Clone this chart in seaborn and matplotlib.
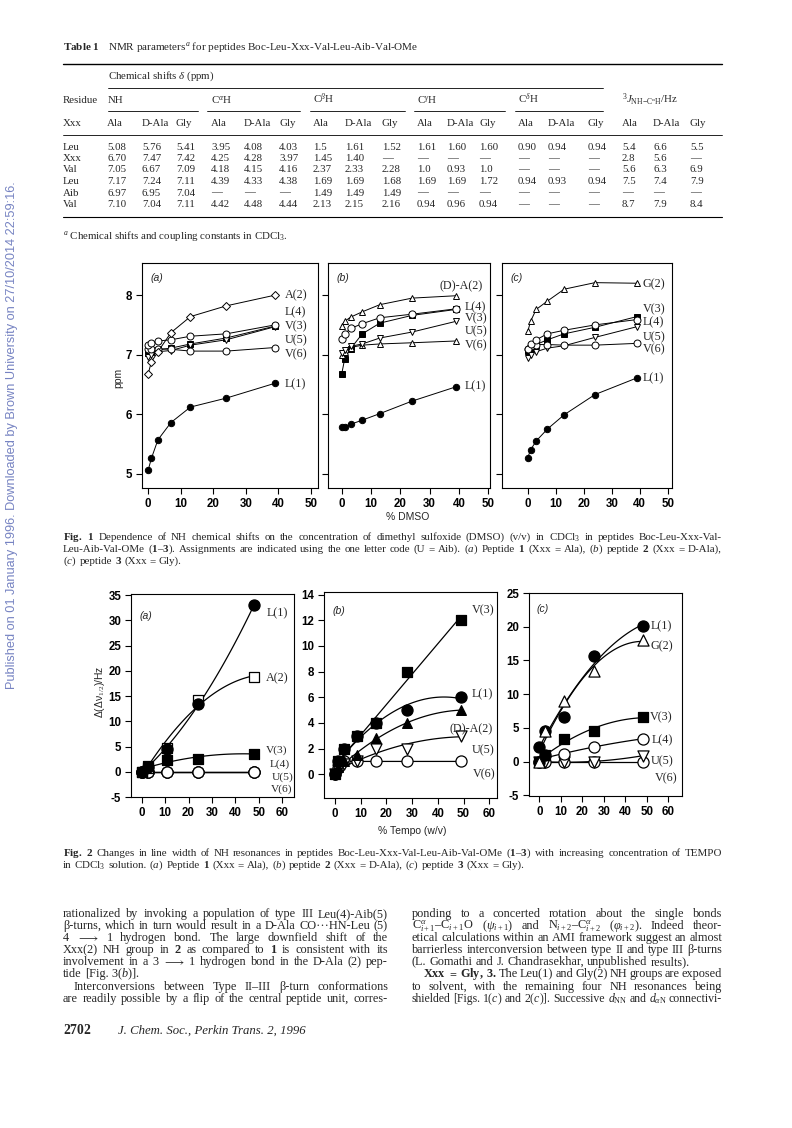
import numpy as np
import pandas as pd
import matplotlib
matplotlib.use("Agg")
import matplotlib.pyplot as plt
from matplotlib.lines import Line2D
import seaborn as sns

W, H = 792, 1128

# ---------------- Fig. 1 data: NH shift (ppm) vs % DMSO ----------------
dmso_pct = [0, 1, 3, 7, 13, 24, 39]
f1a_L1 = [5.06, 5.26, 5.57, 5.86, 6.12, 6.27, 6.52]
f1a_A2 = [6.68, 6.88, 7.05, 7.37, 7.64, 7.82, 8.00]
f1a_L4 = [7.17, 7.19, 7.23, 7.25, 7.31, 7.35, 7.50]
f1a_V3 = [7.03, 7.05, 7.08, 7.11, 7.18, 7.28, 7.48]
f1a_U5 = [6.96, 6.99, 7.05, 7.07, 7.16, 7.25, 7.47]
f1a_V6 = [7.09, 7.10, 7.10, 7.09, 7.06, 7.06, 7.12]

f1b_L1 = [5.78, 5.79, 5.83, 5.90, 6.01, 6.22, 6.46]
f1b_DA2 = [7.48, 7.56, 7.63, 7.72, 7.84, 7.95, 7.99]
f1b_L4 = [7.26, 7.35, 7.44, 7.52, 7.62, 7.68, 7.77]
f1b_V3 = [6.68, 6.93, 7.10, 7.35, 7.53, 7.66, 7.76]
f1b_U5 = [7.03, 7.08, 7.14, 7.18, 7.28, 7.38, 7.56]
f1b_V6 = [7.00, 7.05, 7.12, 7.16, 7.18, 7.20, 7.23]

f1c_L1 = [5.27, 5.40, 5.55, 5.75, 5.99, 6.33, 6.61]
f1c_G2 = [7.39, 7.56, 7.76, 7.90, 8.10, 8.21, 8.20]
f1c_V3 = [7.07, 7.11, 7.17, 7.25, 7.35, 7.46, 7.64]
f1c_L4 = [7.09, 7.18, 7.25, 7.35, 7.41, 7.50, 7.59]
f1c_U5 = [6.95, 7.00, 7.05, 7.11, 7.15, 7.29, 7.47]
f1c_V6 = [7.09, 7.15, 7.17, 7.17, 7.16, 7.16, 7.19]

# ---------------- Fig. 2 data: line-width change (Hz) vs % TEMPO ----------------
tempo_a = [0, 2.5, 11, 24, 48]
f2a_L1 = [0, 1.0, 4.5, 13.5, 33.0]
f2a_A2 = [0, 0.8, 4.8, 14.2, 18.8]
f2a_V3 = [0, 1.2, 2.4, 2.5, 3.6]
f2a_L4 = [0, 0, 0, 0, 0]
f2a_U5 = [0, 0, 0, 0, 0]
f2a_V6 = [0, 0, 0, 0, 0]

tempo_b = [0, 1, 3.5, 8.5, 16, 28, 49]
f2b_V3 = [0, 1.0, 2.0, 3.0, 4.0, 8.0, 12.0]
f2b_L1 = [0, 1.0, 2.0, 3.0, 4.0, 5.0, 6.0]
f2b_DA2 = [0, 0.6, 1.0, 1.5, 2.8, 4.0, 5.0]
f2b_U5 = [0, 0.3, 0.8, 1.0, 2.0, 2.0, 3.0]
f2b_V6 = [0, 0.5, 1.0, 1.0, 1.0, 1.0, 1.0]

tempo_c = [0, 2.5, 11.5, 25.5, 48]
f2c_L1 = [2.2, 4.5, 6.7, 15.7, 20.1]
f2c_G2 = [0, 4.5, 9.0, 13.5, 18.0]
f2c_V3 = [0, 1.0, 3.3, 4.6, 6.6]
f2c_L4 = [0, 1.0, 1.1, 2.2, 3.4]
f2c_U5 = [0, 0, 0, 0, 0.9]
f2c_V6 = [0, 0, 0, 0, 0]

# ---------------- Table 1 ----------------
table_residues = ["Leu", "Xxx", "Val", "Leu", "Aib", "Val"]
table_values = [
    ["5.08", "5.76", "5.41", "3.95", "4.08", "4.03", "1.5", "1.61", "1.52", "1.61", "1.60", "1.60", "0.90", "0.94", "0.94", "5.4", "6.6", "5.5"],
    ["6.70", "7.47", "7.42", "4.25", "4.28", "3.97", "1.45", "1.40", "\u2014", "\u2014", "\u2014", "\u2014", "\u2014", "\u2014", "\u2014", "2.8", "5.6", "\u2014"],
    ["7.05", "6.67", "7.09", "4.18", "4.15", "4.16", "2.37", "2.33", "2.28", "1.0", "0.93", "1.0", "\u2014", "\u2014", "\u2014", "5.6", "6.3", "6.9"],
    ["7.17", "7.24", "7.11", "4.39", "4.33", "4.38", "1.69", "1.69", "1.68", "1.69", "1.69", "1.72", "0.94", "0.93", "0.94", "7.5", "7.4", "7.9"],
    ["6.97", "6.95", "7.04", "\u2014", "\u2014", "\u2014", "1.49", "1.49", "1.49", "\u2014", "\u2014", "\u2014", "\u2014", "\u2014", "\u2014", "\u2014", "\u2014", "\u2014"],
    ["7.10", "7.04", "7.11", "4.42", "4.48", "4.44", "2.13", "2.15", "2.16", "0.94", "0.96", "0.94", "\u2014", "\u2014", "\u2014", "8.7", "7.9", "8.4"],
]
table_groups = ["NH", "C$^{\\alpha}$H", "C$^{\\beta}$H", "C$^{\\gamma}$H", "C$^{\\delta}$H",
                "$^{3}J_{\\mathrm{NH\\!-\\!C^{\\alpha}H}}$/Hz"]
table_sub = ["Ala", "D-Ala", "Gly"]

# ---------------- style ----------------
sns.set_theme(style="ticks")
SERIF = ["Liberation Serif", "DejaVu Serif"]
SANS = ["Liberation Sans", "DejaVu Sans"]
plt.rcParams.update({
    "font.family": SANS,
    "mathtext.fontset": "custom",
    "mathtext.rm": "Liberation Serif",
    "mathtext.it": "Liberation Serif:italic",
    "mathtext.bf": "Liberation Serif:bold",
    "mathtext.fallback": "stix",
    "axes.linewidth": 0.8,
    "axes.edgecolor": "black",
    "xtick.color": "black",
    "ytick.color": "black",
    "figure.facecolor": "white",
})

fig = plt.figure(figsize=(W / 100, H / 100), dpi=100)
renderer = fig.canvas.get_renderer()


def fx(x):
    return x / W


def fy(y):
    return 1 - y / H


def T(x, y, s, size=8, family=SERIF, **kw):
    return fig.text(fx(x), fy(y), s, fontsize=size, family=family, **kw)


def hline(x0, x1, y, lw=0.8):
    fig.add_artist(Line2D([fx(x0), fx(x1)], [fy(y), fy(y)], color="black", lw=lw,
                          transform=fig.transFigure))


def para_line(x0, x1, y, s, size, justify=True, indent=0):
    words = s.split()
    objs = [fig.text(0, 0, w, fontsize=size, family=SERIF, va="baseline", ha="left") for w in words]
    widths = [o.get_window_extent(renderer).width for o in objs]
    avail = x1 - x0 - indent
    min_gap = 2.0
    need = sum(widths) + (len(words) - 1) * min_gap
    if justify and need > avail:
        scale = (avail - (len(words) - 1) * min_gap) / sum(widths)
        for o in objs:
            o.set_fontsize(size * scale)
        widths = [o.get_window_extent(renderer).width for o in objs]
    normal = size * 100 / 72 * 0.25
    if justify and len(words) > 1:
        gap = max((avail - sum(widths)) / (len(words) - 1), min_gap)
    else:
        gap = normal
    x = x0 + indent
    for o, w in zip(objs, widths):
        o.set_position((fx(x), fy(y)))
        x += w + gap


def rect(x0, y0, x1, y1):
    return [fx(x0), fy(y1), (x1 - x0) / W, (y1 - y0) / H]


# ---------------- sidebar ----------------
T(12, 435, "Published on 01 January 1996. Downloaded by Brown University on 27/10/2014 22:59:16.",
  size=9.2, family=SANS, rotation=90, ha="center", va="center", color="#7683c2")

# ---------------- Table ----------------
tsz = 7.8
T(63, 50, "$\\mathbf{Table\\ 1}$", size=8.0, va="baseline")
T(108, 50, "NMR parameters$^{\\mathit{a}}$ for peptides Boc-Leu-Xxx-Val-Leu-Aib-Val-OMe", size=8.0, va="baseline")
hline(63, 722, 64, lw=1.0)
T(108, 79, "Chemical shifts $\\delta$ (ppm)", size=tsz, va="baseline")
hline(108, 603, 88, lw=0.6)
group_x = [108, 211, 313, 417, 518, 622]
T(63, 103, "Residue", size=tsz, va="baseline")
for gx, g in zip(group_x, table_groups):
    T(gx, 103, g, size=tsz, va="baseline")
for a, b in [(108, 198), (207, 300), (310, 405), (414, 505), (515, 603)]:
    hline(a, b, 111, lw=0.6)
col_x = [107, 142, 176, 211, 244, 279, 313, 345, 382, 417, 447, 479, 518, 548, 588, 622, 653, 690]
T(63, 126, "Xxx", size=tsz, va="baseline")
for i, cx in enumerate(col_x):
    T(cx, 126, table_sub[i % 3], size=tsz, va="baseline")
hline(63, 722, 135, lw=0.6)
row_y = [150, 161, 172, 183.5, 195.5, 207]
for ry, res, vals in zip(row_y, table_residues, table_values):
    T(63, ry, res, size=tsz, va="baseline")
    for cx, v in zip(col_x, vals):
        T(cx, ry, v, size=tsz, va="baseline")
hline(63, 722, 217, lw=0.8)
T(63, 239, "$^{\\mathit{a}}$ Chemical shifts and coupling constants in CDCl$_3$.", size=tsz, va="baseline")

# ---------------- Figure 1 ----------------
ax1a = fig.add_axes(rect(142, 263, 318, 488))
ax1b = fig.add_axes(rect(328, 263, 490, 488))
ax1c = fig.add_axes(rect(502, 263, 672, 488))


def f1_series(ax, y, marker, filled, ms=5):
    sns.lineplot(x=dmso_pct, y=y, ax=ax, color="black", lw=0.7, errorbar=None,
                 marker=marker, markersize=ms,
                 markerfacecolor="black" if filled else "white",
                 markeredgecolor="black", markeredgewidth=0.7)


f1_series(ax1a, f1a_L1, "o", True, 4.6)
f1_series(ax1a, f1a_V3, "s", True, 3.8)
f1_series(ax1a, f1a_U5, "v", False, 5)
f1_series(ax1a, f1a_V6, "o", False, 5)
f1_series(ax1a, f1a_L4, "o", False, 5)
f1_series(ax1a, f1a_A2, "D", False, 4.2)

f1_series(ax1b, f1b_L1, "o", True, 4.6)
f1_series(ax1b, f1b_V3, "s", True, 3.8)
f1_series(ax1b, f1b_V6, "^", False, 4.6)
f1_series(ax1b, f1b_U5, "v", False, 4.6)
f1_series(ax1b, f1b_L4, "o", False, 5.2)
f1_series(ax1b, f1b_DA2, "^", False, 4.6)

f1_series(ax1c, f1c_L1, "o", True, 4.6)
f1_series(ax1c, f1c_V3, "s", True, 3.8)
f1_series(ax1c, f1c_U5, "v", False, 4.6)
f1_series(ax1c, f1c_V6, "o", False, 5)
f1_series(ax1c, f1c_L4, "o", False, 5)
f1_series(ax1c, f1c_G2, "^", False, 4.6)

for ax, xl in [(ax1a, (-1.9, 52.2)), (ax1b, (-4.7, 50.6)), (ax1c, (-9.2, 51.5))]:
    ax.set_xlim(*xl)
    ax.set_ylim(4.76, 8.54)
    ax.set_xlabel("")
    ax.set_ylabel("")
    ax.tick_params(direction="out", length=4, width=0.8, pad=3)
    ax.set_xticks(range(0, 51, 10), labels=[str(v) for v in range(0, 51, 10)],
                  fontsize=8.3, fontweight="bold", family=SANS)
    for sp in ax.spines.values():
        sp.set_visible(True)
        sp.set_linewidth(0.8)
ax1a.set_yticks([5, 6, 7, 8], labels=["5", "6", "7", "8"], fontsize=8.3, fontweight="bold", family=SANS)
ax1b.set_yticks([5, 6, 7, 8], labels=[])
ax1c.set_yticks([5, 6, 7, 8], labels=[])

lab1 = dict(fontsize=8.7, family=SERIF, ha="left", va="center")
ax1a.text(42, 8.00, "A(2)", **lab1)
ax1a.text(42, 7.72, "L(4)", **lab1)
ax1a.text(42, 7.48, "V(3)", **lab1)
ax1a.text(42, 7.24, "U(5)", **lab1)
ax1a.text(42, 7.01, "V(6)", **lab1)
ax1a.text(42, 6.50, "L(1)", **lab1)

ax1b.text(33.5, 8.15, "(D)-A(2)", **lab1)
ax1b.text(42, 7.79, "L(4)", **lab1)
ax1b.text(42, 7.61, "V(3)", **lab1)
ax1b.text(42, 7.39, "U(5)", **lab1)
ax1b.text(42, 7.15, "V(6)", **lab1)
ax1b.text(42, 6.47, "L(1)", **lab1)

ax1c.text(41, 8.18, "G(2)", **lab1)
ax1c.text(41, 7.77, "V(3)", **lab1)
ax1c.text(41, 7.54, "L(4)", **lab1)
ax1c.text(41, 7.30, "U(5)", **lab1)
ax1c.text(41, 7.09, "V(6)", **lab1)
ax1c.text(41, 6.61, "L(1)", **lab1)

for ax, s in [(ax1a, "(a)"), (ax1b, "(b)"), (ax1c, "(c)")]:
    ax.text(0.05, 0.935, s, transform=ax.transAxes, fontsize=7.5, style="italic",
            family=SANS, ha="left", va="center")

T(118, 378, "ppm", size=7.5, family=SANS, rotation=90, ha="center", va="center")
T(408, 517, "% DMSO", size=7.5, family=SANS, ha="center", va="center")

# Fig 1 caption
cap = 7.95
para_line(63, 722, 540, "$\\mathbf{Fig.}$ $\\mathbf{1}$ Dependence of NH chemical shifts on the concentration of dimethyl sulfoxide (DMSO) (v/v) in CDCl$_3$ in peptides Boc-Leu-Xxx-Val-", cap)
para_line(63, 722, 552, "Leu-Aib-Val-OMe ($\\mathbf{1}$\u2013$\\mathbf{3}$). Assignments are indicated using the one letter code (U = Aib). ($\\mathit{a}$) Peptide $\\mathbf{1}$ (Xxx = Ala), ($\\mathit{b}$) peptide $\\mathbf{2}$ (Xxx = D-Ala),", cap)
para_line(63, 722, 564, "($\\mathit{c}$) peptide $\\mathbf{3}$ (Xxx = Gly).", cap, justify=False)

# ---------------- Figure 2 ----------------
ax2a = fig.add_axes(rect(131, 594, 294, 797))
ax2b = fig.add_axes(rect(324, 592, 497, 798))
ax2c = fig.add_axes(rect(529, 593, 682, 796))


def f2_series(ax, x, y, marker, filled, order, ms=8):
    if order == 0:
        sns.lineplot(x=x, y=y, ax=ax, color="black", lw=0.9, errorbar=None)
    else:
        sns.regplot(x=x, y=y, ax=ax, order=order, ci=None, scatter=False, truncate=True,
                    line_kws=dict(color="black", lw=0.9))
    sns.scatterplot(x=x, y=y, ax=ax, marker=marker, s=ms ** 2,
                    color="black" if filled else "white", edgecolor="black",
                    linewidth=0.9, zorder=3)


f2_series(ax2a, tempo_a, f2a_L4, "o", False, 1)
f2_series(ax2a, tempo_a, f2a_U5, "o", False, 1)
f2_series(ax2a, tempo_a, f2a_V6, "o", False, 1)
f2_series(ax2a, tempo_a, f2a_V3, "s", True, 2, 7)
f2_series(ax2a, tempo_a, f2a_A2, "s", False, 2, 7.5)
f2_series(ax2a, tempo_a, f2a_L1, "o", True, 2)

f2_series(ax2b, tempo_b, f2b_V6, "o", False, 0)
f2_series(ax2b, tempo_b, f2b_U5, "v", False, 2)
f2_series(ax2b, tempo_b, f2b_DA2, "^", True, 2, 7)
f2_series(ax2b, tempo_b, f2b_L1, "o", True, 2)
f2_series(ax2b, tempo_b, f2b_V3, "s", True, 1, 7)

f2_series(ax2c, tempo_c, f2c_V6, "o", False, 1)
f2_series(ax2c, tempo_c, f2c_U5, "v", False, 2)
f2_series(ax2c, tempo_c, f2c_L4, "o", False, 2)
f2_series(ax2c, tempo_c, f2c_V3, "s", True, 2, 7)
f2_series(ax2c, tempo_c, f2c_L1, "o", True, 2)
f2_series(ax2c, tempo_c, f2c_G2, "^", False, 2)

for ax, xl, yl, yt in [
    (ax2a, (-4.55, 65), (-5, 35.2), list(range(-5, 36, 5))),
    (ax2b, (-4.3, 63), (-1.85, 14.2), list(range(0, 15, 2))),
    (ax2c, (-4.8, 66.3), (-5.08, 25.0), list(range(-5, 26, 5))),
]:
    ax.set_xlim(*xl)
    ax.set_ylim(*yl)
    ax.set_xlabel("")
    ax.set_ylabel("")
    ax.tick_params(direction="out", length=4, width=0.8, pad=3)
    ax.set_xticks(range(0, 61, 10), labels=[str(v) for v in range(0, 61, 10)],
                  fontsize=8.3, fontweight="bold", family=SANS)
    ax.set_yticks(yt, labels=[str(v) for v in yt], fontsize=8.3, fontweight="bold", family=SANS)
    for sp in ax.spines.values():
        sp.set_visible(True)
        sp.set_linewidth(0.8)

lab2 = dict(fontsize=8.7, family=SERIF, ha="left", va="center")
lab2s = dict(fontsize=8.2, family=SERIF, ha="left", va="center")
ax2a.text(53.2, 31.3, "L(1)", **lab2)
ax2a.text(53.2, 18.5, "A(2)", **lab2)
ax2a.text(53.2, 4.3, "V(3)", **lab2s)
ax2a.text(54.6, 1.5, "L(4)", **lab2s)
ax2a.text(55.3, -1.0, "U(5)", **lab2s)
ax2a.text(55.3, -3.4, "V(6)", **lab2s)

ax2b.text(53.2, 12.8, "V(3)", **lab2)
ax2b.text(53.2, 6.2, "L(1)", **lab2)
ax2b.text(44.4, 3.5, "(D)-A(2)", **lab2)
ax2b.text(53.0, 1.85, "U(5)", **lab2)
ax2b.text(53.8, 0.0, "V(6)", **lab2)

ax2c.text(51.5, 20.1, "L(1)", **lab2)
ax2c.text(51.5, 17.1, "G(2)", **lab2)
ax2c.text(51.5, 6.6, "V(3)", **lab2)
ax2c.text(52.0, 3.2, "L(4)", **lab2)
ax2c.text(52.0, 0.0, "U(5)", **lab2)
ax2c.text(53.8, -2.4, "V(6)", **lab2)

for ax, s, yy in [(ax2a, "(a)", 0.89), (ax2b, "(b)", 0.91), (ax2c, "(c)", 0.92)]:
    ax.text(0.05, yy, s, transform=ax.transAxes, fontsize=7.5, style="italic",
            family=SANS, ha="left", va="center")

T(100, 692, "\u0394(\u0394\u03bd$_{1/2}$)/Hz", size=7.5, family=SANS, rotation=90, ha="center", va="center")
T(412, 831, "% Tempo (w/v)", size=7.5, family=SANS, ha="center", va="center")

# Fig 2 caption
para_line(63, 722, 856, "$\\mathbf{Fig.}$ $\\mathbf{2}$ Changes in line width of NH resonances in peptides Boc-Leu-Xxx-Val-Leu-Aib-Val-OMe ($\\mathbf{1}$\u2013$\\mathbf{3}$) with increasing concentration of TEMPO", cap)
para_line(63, 722, 868, "in CDCl$_3$ solution. ($\\mathit{a}$) Peptide $\\mathbf{1}$ (Xxx = Ala), ($\\mathit{b}$) peptide $\\mathbf{2}$ (Xxx = D-Ala), ($\\mathit{c}$) peptide $\\mathbf{3}$ (Xxx = Gly).", cap, justify=False)

# ---------------- Body text ----------------
bs = 8.8
left = [
    ("rationalized by invoking a population of type III Leu(4)-Aib(5)", True, 0),
    ("\u03b2-turns, which in turn would result in a D-Ala CO\u00b7\u00b7\u00b7HN-Leu (5)", True, 0),
    ("4 $\\longrightarrow$ 1 hydrogen bond. The large downfield shift of the", True, 0),
    ("Xxx(2) NH group in $\\mathbf{2}$ as compared to $\\mathbf{1}$ is consistent with its", True, 0),
    ("involvement in a 3 $\\longrightarrow$ 1 hydrogen bond in the D-Ala (2) pep-", True, 0),
    ("tide [Fig. 3($\\mathit{b}$)].", False, 0),
    ("Interconversions between Type II\u2013III \u03b2-turn conformations", True, 11),
    ("are readily possible by a flip of the central peptide unit, corres-", True, 0),
]
right = [
    ("ponding to a concerted rotation about the single bonds", True, 0),
    ("C$^{\\alpha}_{i+1}$\u2013C$_{i+1}$O ($\\psi_{i+1}$) and N$_{i+2}$\u2013C$^{\\alpha}_{i+2}$ ($\\varphi_{i+2}$). Indeed theor-", True, 0),
    ("etical calculations within an AMI framework suggest an almost", True, 0),
    ("barrierless interconversion between type II and type III \u03b2-turns", True, 0),
    ("(L. Gomathi and J. Chandrasekhar, unpublished results).", False, 0),
    ("$\\mathbf{Xxx}$ $\\mathbf{=}$ $\\mathbf{Gly,}$ $\\mathbf{3.}$ The Leu(1) and Gly(2) NH groups are exposed", True, 11),
    ("to solvent, with the remaining four NH resonances being", True, 0),
    ("shielded [Figs. 1($\\mathit{c}$) and 2($\\mathit{c}$)]. Successive $d_{\\mathrm{NN}}$ and $d_{\\alpha\\mathrm{N}}$ connectivi-", True, 0),
]
line_y = [917, 929, 941, 953, 965, 977, 990, 1002]
for (s, j, ind), yy in zip(left, line_y):
    para_line(63, 388, yy, s, bs, justify=j, indent=ind)
for (s, j, ind), yy in zip(right, line_y):
    para_line(412, 722, yy, s, bs, justify=j, indent=ind)

# footer
T(63, 1034, "$\\mathbf{2702}$", size=9.8, va="baseline")
T(118, 1034, "J. Chem. Soc., Perkin Trans. 2, 1996", size=9.2, style="italic", va="baseline")

fig.savefig("out.png", dpi=100)
